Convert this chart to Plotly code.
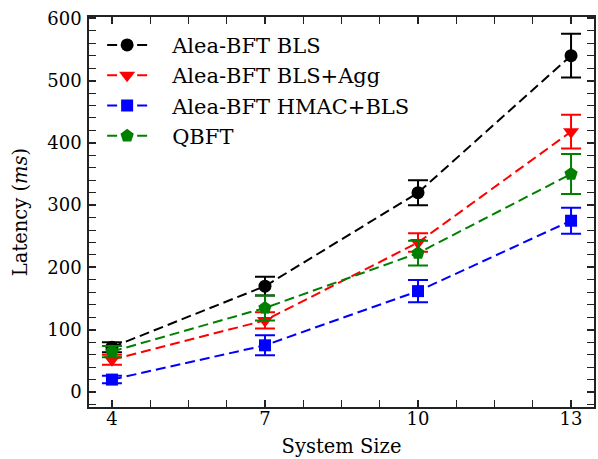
import plotly.graph_objects as go

# System sizes (number of replicas)
sizes = [4, 7, 10, 13]
size_labels = ["4", "7", "10", "13"]

# Mean latency (ms) and error (ms) per configuration
bls = [72, 170, 320, 540]
bls_err = [8, 15, 20, 35]

bls_agg = [52, 115, 240, 418]
bls_agg_err = [8, 13, 15, 27]

hmac_bls = [20, 75, 162, 275]
hmac_bls_err = [6, 16, 18, 21]

qbft = [65, 135, 223, 350]
qbft_err = [9, 20, 20, 32]

y_ticks = [0, 100, 200, 300, 400, 500, 600]

FONT = "DejaVu Serif"
TICK_FS = 18
TITLE_FS = 19.5
LEGEND_FS = 21
INK = "#222"
PAD = "\u00a0\u00a0\u00a0"  # gap between legend symbol and label

series = [
    ("Alea-BFT BLS", bls, bls_err, "black", "circle", 13),
    ("Alea-BFT BLS+Agg", bls_agg, bls_agg_err, "red", "triangle-down", 14),
    ("Alea-BFT HMAC+BLS", hmac_bls, hmac_bls_err, "blue", "square", 12),
    ("QBFT", qbft, qbft_err, "green", "pentagon", 14),
]

fig = go.Figure()
for name, vals, errs, color, symbol, msize in series:
    fig.add_trace(go.Scatter(
        x=sizes, y=vals, name=PAD + name, mode="lines+markers",
        line=dict(color=color, width=2, dash="10px,5px"),
        marker=dict(color=color, symbol=symbol, size=msize, line=dict(width=0)),
        error_y=dict(type="data", array=errs, visible=True,
                     color=color, thickness=2, width=10),
    ))

x_range = [3.55, 13.45]
y_range = [-24, 602]

tick_common = dict(
    ticks="inside", ticklen=7, tickwidth=1.5, tickcolor=INK,
    showgrid=False, zeroline=False,
    tickfont=dict(family=FONT, size=TICK_FS, color="black"),
)
minor_common = dict(ticks="inside", ticklen=4, tickwidth=1.2, tickcolor=INK)

fig.update_layout(
    xaxis=dict(
        **tick_common, range=x_range, tickvals=sizes, ticktext=size_labels,
        showline=True, linecolor=INK, linewidth=1.5, mirror="allticks",
        minor=dict(**minor_common, tick0=4, dtick=0.75),
        ticklabelstandoff=-5,
        title=dict(text="System Size", font=dict(family=FONT, size=TITLE_FS, color="black"),
                   standoff=11),
    ),
    yaxis=dict(
        **tick_common, range=y_range, tickvals=y_ticks,
        showline=True, linecolor=INK, linewidth=1.5, mirror="allticks",
        minor=dict(**minor_common, tick0=0, dtick=20),
        ticklabelstandoff=2,
        title=dict(text="Latency (<i>ms</i>)", font=dict(family=FONT, size=TITLE_FS, color="black"),
                   standoff=14),
    ),
    # short tick marks along the top and right frame edges
    xaxis2=dict(
        ticks="inside", ticklen=4, tickwidth=1.2, tickcolor=INK,
        showgrid=False, zeroline=False, showline=False, showticklabels=False,
        range=x_range, tickmode="linear", tick0=4, dtick=0.75,
        overlaying="x", side="top", anchor="y",
    ),
    yaxis2=dict(
        ticks="inside", ticklen=4, tickwidth=1.2, tickcolor=INK,
        showgrid=False, zeroline=False, showline=False, showticklabels=False,
        range=y_range, tickmode="linear", tick0=0, dtick=20,
        overlaying="y", side="right", anchor="x",
    ),
    width=598, height=459,
    margin=dict(l=89, r=2, t=17, b=52),
    plot_bgcolor="white", paper_bgcolor="white",
    font=dict(family=FONT, size=TICK_FS, color="black"),
    legend=dict(
        x=0.026, y=0.98, xanchor="left", yanchor="top",
        bgcolor="rgba(0,0,0,0)", borderwidth=0,
        font=dict(family=FONT, size=LEGEND_FS, color="black"),
        itemwidth=40, tracegroupgap=0,
    ),
    showlegend=True,
)

# transparent traces that activate the top and right tick axes
fig.add_trace(go.Scatter(x=[sizes[0]], y=[y_ticks[0]], xaxis="x2", yaxis="y",
                         showlegend=False, hoverinfo="skip", mode="markers",
                         marker=dict(opacity=0)))
fig.add_trace(go.Scatter(x=[sizes[0]], y=[y_ticks[0]], xaxis="x", yaxis="y2",
                         showlegend=False, hoverinfo="skip", mode="markers",
                         marker=dict(opacity=0)))

fig.write_html("out.html")
